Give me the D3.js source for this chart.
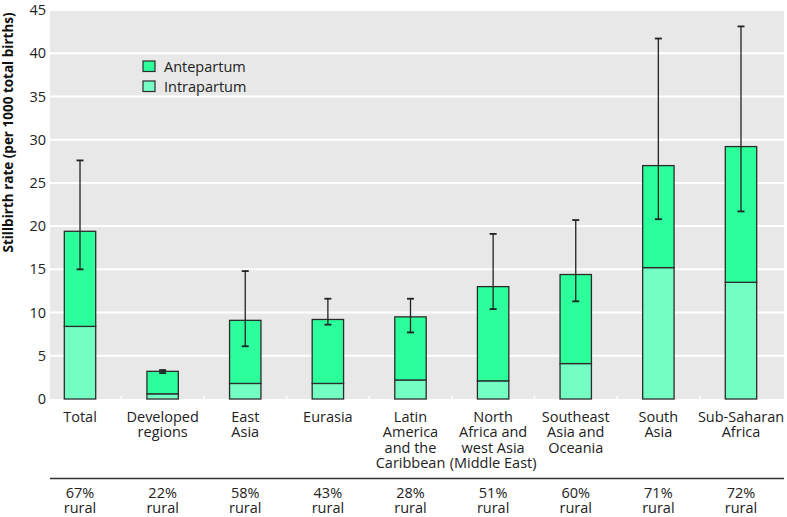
<!DOCTYPE html>
<html><head><meta charset="utf-8">
<script src="https://cdn.jsdelivr.net/npm/d3@7"></script>
<style>
body{margin:0;background:#fff;}
svg{display:block;font-family:"Open Sans",sans-serif;}
</style></head>
<body>
<svg id="c" width="787" height="517"></svg>
<script>
const categories = ["Total","Developed regions","East Asia","Eurasia","Latin America and the Caribbean","North Africa and west Asia (Middle East)","Southeast Asia and Oceania","South Asia","Sub-Saharan Africa"];
const categoryLines = [["Total"],["Developed","regions"],["East","Asia"],["Eurasia"],["Latin","America","and the","Caribbean"],["North","Africa and","west Asia","(Middle East)"],["Southeast","Asia and","Oceania"],["South","Asia"],["Sub-Saharan","Africa"]];
const intrapartum = [8.4, 0.6, 1.8, 1.8, 2.2, 2.1, 4.1, 15.2, 13.5];
const totalRate = [19.4, 3.2, 9.1, 9.2, 9.5, 13.0, 14.4, 27.0, 29.2];
const antepartum = totalRate.map((t,i)=>+(t-intrapartum[i]).toFixed(2));
const errLow = [15.0, 3.0, 6.1, 8.6, 7.7, 10.4, 11.3, 20.8, 21.7];
const errHigh = [27.6, 3.35, 14.8, 11.6, 11.6, 19.1, 20.7, 41.7, 43.1];
const ruralPct = ["67%","22%","58%","43%","28%","51%","60%","71%","72%"];
const yTicks = [0,5,10,15,20,25,30,35,40,45];
const seriesNames = ["Antepartum","Intrapartum"];
const colors = {Antepartum:"#2cfe9c", Intrapartum:"#74fec4"};

const svg = d3.select("#c");
const plot = {l:50, r:784, t:10, b:399};
const y = d3.scaleLinear().domain([0,45]).range([plot.b, plot.t]);
const x = d3.scaleBand().domain(categories).range([38.7, 782.3]).paddingInner(0.62).paddingOuter(0.31);

svg.append("rect").attr("x",plot.l).attr("y",plot.t).attr("width",plot.r-plot.l).attr("height",plot.b-plot.t).attr("fill","#e8e8e8");
svg.append("g").selectAll("line").data(yTicks.slice(1)).join("line")
  .attr("x1",plot.l).attr("x2",plot.r).attr("y1",d=>y(d)).attr("y2",d=>y(d))
  .attr("stroke","#fff").attr("stroke-width",2);
const step = x.step();
svg.append("g").selectAll("line").data(categories.slice(0,-1)).join("line")
  .attr("x1",d=>x(d)+x.bandwidth()/2+step/2).attr("x2",d=>x(d)+x.bandwidth()/2+step/2)
  .attr("y1",plot.b-3).attr("y2",plot.b).attr("stroke","#fff").attr("stroke-width",1.5);

svg.append("g").selectAll("text").data(yTicks).join("text")
  .attr("x",46).attr("y",d=>y(d)).attr("dy","0.35em").attr("text-anchor","end")
  .attr("font-size",14.5).attr("fill","#222").text(d=>d);
svg.append("text").attr("transform","translate(13,"+((plot.t+255)/2)+") rotate(-90)")
  .attr("text-anchor","middle").attr("font-size",13.5).attr("font-weight","bold").attr("fill","#111")
  .text("Stillbirth rate (per 1000 total births)");

const rows = categories.map((c,i)=>({cat:c, Intrapartum:intrapartum[i], Antepartum:antepartum[i]}));
const stack = d3.stack().keys(["Intrapartum","Antepartum"])(rows);
svg.append("g").selectAll("g").data(stack).join("g")
  .attr("fill",d=>colors[d.key])
  .selectAll("rect").data(d=>d).join("rect")
  .attr("x",d=>x(d.data.cat)).attr("width",x.bandwidth())
  .attr("y",d=>y(d[1])).attr("height",d=>y(d[0])-y(d[1]))
  .attr("stroke","#2b2b2b").attr("stroke-width",1.3);

const eg = svg.append("g").attr("stroke","#222").attr("stroke-width",1.3);
categories.forEach((c,i)=>{
  const cx = x(c)+x.bandwidth()/2;
  eg.append("line").attr("x1",cx).attr("x2",cx).attr("y1",y(errLow[i])).attr("y2",y(errHigh[i]));
  [errLow[i],errHigh[i]].forEach(v=>{
    eg.append("line").attr("x1",cx-3.5).attr("x2",cx+3.5).attr("y1",y(v)).attr("y2",y(v)).attr("stroke-width",1.8);
  });
});

const lg = svg.append("g");
seriesNames.forEach((s,i)=>{
  lg.append("rect").attr("x",143).attr("y",61+i*20).attr("width",12).attr("height",10.5)
    .attr("fill",colors[s]).attr("stroke","#2b2b2b").attr("stroke-width",1.2);
  lg.append("text").attr("x",164).attr("y",71.5+i*20).attr("font-size",14.5).attr("fill","#222").text(s);
});

categories.forEach((c,i)=>{
  const cx = x(c)+x.bandwidth()/2;
  const t = svg.append("text").attr("text-anchor","middle").attr("font-size",14.5).attr("fill","#222");
  categoryLines[i].forEach((ln,j)=>{
    t.append("tspan").attr("x",cx).attr("y",422+j*15.4).text(ln);
  });
  const r = svg.append("text").attr("text-anchor","middle").attr("font-size",14.5).attr("fill","#222");
  r.append("tspan").attr("x",cx).attr("y",497.5).text(ruralPct[i]);
  r.append("tspan").attr("x",cx).attr("y",513).text("rural");
});
svg.append("line").attr("x1",plot.l).attr("x2",plot.r).attr("y1",478.5).attr("y2",478.5)
  .attr("stroke","#333").attr("stroke-width",1.5);
</script>
</body></html>
